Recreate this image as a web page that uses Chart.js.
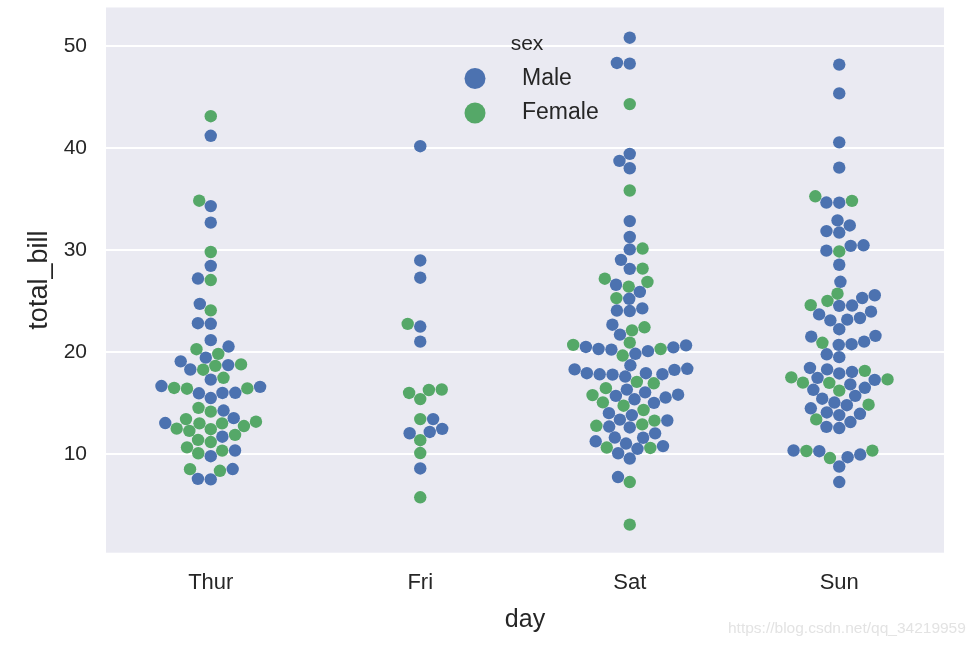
<!DOCTYPE html>
<html>
<head>
<meta charset="utf-8">
<script src="https://cdn.jsdelivr.net/npm/chart.js@4/dist/chart.umd.min.js"></script>
<style>
  html, body { margin: 0; padding: 0; background: #ffffff; }
  #wrap { position: relative; width: 980px; height: 648px; }
  #watermark { position: absolute; left: 728px; top: 619px; font: 15.5px "Liberation Sans", Arial, sans-serif; color: #e3e3e3; white-space: nowrap; }
</style>
</head>
<body>
<div id="wrap">
  <canvas id="c" width="980" height="648"></canvas>
  <div id="watermark">https://blog.csdn.net/qq_34219959</div>
</div>
<script>
// ---- data (seaborn "tips": total_bill by day, with sex of each row, in row order) ----
const days = ['Thur', 'Fri', 'Sat', 'Sun'];
const sexes = ['Male', 'Female'];
const yTicks = [10, 20, 30, 40, 50];

const thurBill = [27.2, 22.76, 17.29, 19.44, 16.66, 10.07, 32.68, 15.98, 34.83, 13.03, 18.28, 24.71, 21.16, 10.65, 12.43, 24.08, 11.69, 13.42, 14.26, 15.95, 12.48, 29.8, 8.52, 14.52, 11.38, 22.82, 19.08, 20.27, 11.17, 12.26, 18.26, 8.51, 10.33, 14.15, 16.0, 13.16, 17.47, 34.3, 41.19, 27.05, 16.43, 8.35, 18.64, 11.87, 9.78, 7.51, 19.81, 28.44, 15.48, 16.58, 7.56, 10.34, 43.11, 13.0, 13.51, 18.71, 12.74, 13.0, 16.4, 20.53, 16.47, 18.78];
const thurSex = 'MMMMMFMMFMMMMFFFMFMMFFMFFMMFFFFFFFMFFMMFFFFFMMFMMMMMFFMMFFFMFF';
const friBill = [28.97, 22.49, 5.75, 16.32, 22.75, 40.17, 27.28, 12.03, 21.01, 12.46, 11.35, 15.38, 12.16, 13.42, 8.58, 15.98, 13.42, 16.27, 10.09];
const friSex = 'MMFFFMMMMMFFMFMFMFF';
const satBill = [20.65, 17.92, 20.29, 15.77, 39.42, 19.82, 17.81, 13.37, 12.69, 21.7, 19.65, 9.55, 18.35, 15.06, 20.69, 17.78, 24.06, 16.31, 16.93, 18.69, 31.27, 16.04, 38.01, 26.41, 11.24, 48.27, 20.29, 13.81, 11.02, 18.29, 17.59, 20.08, 16.45, 3.07, 20.23, 15.01, 12.02, 17.07, 26.86, 25.28, 14.73, 10.51, 17.92, 44.3, 22.42, 20.92, 15.36, 20.49, 25.21, 18.24, 14.31, 14.0, 7.25, 10.59, 10.63, 50.81, 15.81, 26.59, 38.73, 24.27, 12.76, 30.06, 25.89, 48.33, 13.27, 28.17, 12.9, 28.15, 11.59, 7.74, 30.14, 20.45, 13.28, 22.12, 24.01, 15.69, 11.61, 10.77, 15.53, 10.07, 12.6, 32.83, 35.83, 29.03, 27.18, 22.67, 17.82];
const satSex = 'MMFFMMMMMMFMMFFMMMFMMMMFMMMMMMMMFFMMMFFFFMMFFFMMMMFMFFFMMMMMFMMMFFFMMMFMMFMMMMMMMMFMFMM';
const sunBill = [16.99, 10.34, 21.01, 23.68, 24.59, 25.29, 8.77, 26.88, 15.04, 14.78, 10.27, 35.26, 15.42, 18.43, 14.83, 21.58, 10.33, 16.29, 16.97, 17.46, 13.94, 9.68, 30.4, 18.29, 22.23, 32.4, 28.55, 18.04, 12.54, 10.29, 34.81, 9.94, 25.56, 19.49, 38.07, 23.95, 25.71, 17.31, 29.93, 14.07, 13.13, 17.26, 24.55, 19.77, 29.85, 48.17, 25.0, 13.39, 16.49, 21.5, 12.66, 16.21, 13.81, 17.51, 24.52, 20.76, 31.71, 7.25, 31.85, 16.82, 32.9, 17.89, 14.48, 9.6, 34.63, 34.65, 23.33, 45.35, 23.17, 40.55, 20.69, 20.9, 30.46, 18.15, 23.1, 15.69];
const sunSex = 'FMMMFMMMMMMFMMFMFMFMMMMMMMMMMFFMMMMMFFMMMMMMFMFFMMMFMFMMMMMMMMMFMMMMMMMFMFMM';

const billByDay = [thurBill, friBill, satBill, sunBill];
const sexByDay = [thurSex, friSex, satSex, sunSex];

// ---- style ----
const FONT = '"Liberation Sans", Arial, Helvetica, sans-serif';
const TEXT = '#262626';
const COLORS = ['#4C72B0', '#55A868'];
const BG = '#EAEAF2';
const MARKER_D = 12.25; // swarm collision diameter in px

const bgPlugin = {
  id: 'bg',
  beforeDraw(chart) {
    const { ctx, chartArea: a } = chart;
    ctx.save();
    ctx.fillStyle = BG;
    ctx.fillRect(a.left, a.top, a.right - a.left, a.bottom - a.top);
    ctx.restore();
  }
};

const legendPlugin = {
  id: 'swarmLegend',
  afterDraw(chart) {
    const ctx = chart.ctx;
    ctx.save();
    ctx.fillStyle = TEXT;
    ctx.textBaseline = 'middle';
    ctx.textAlign = 'center';
    ctx.font = '21px ' + FONT;
    ctx.fillText('sex', 527, 44);
    ctx.textAlign = 'left';
    ctx.font = '23px ' + FONT;
    chart.data.datasets.forEach((ds, i) => {
      const y = 78.5 + i * 34.5;
      ctx.beginPath();
      ctx.fillStyle = ds.backgroundColor;
      ctx.arc(475, y, 10.5, 0, Math.PI * 2);
      ctx.fill();
      ctx.fillStyle = TEXT;
      ctx.fillText(ds.label, 522, y);
    });
    ctx.restore();
  }
};

// numpy-style (introsort) argsort, so ties resolve like np.argsort(kind='quicksort')
function npArgsort(v) {
  const n = v.length;
  const idx = Array.from({ length: n }, (_, i) => i);
  if (n < 2) return idx;
  const stack = [];
  let pl = 0, pr = n - 1;
  const sw = (a, b) => { const t = idx[a]; idx[a] = idx[b]; idx[b] = t; };
  for (;;) {
    while (pr - pl > 15) {
      const pm = pl + ((pr - pl) >> 1);
      if (v[idx[pm]] < v[idx[pl]]) sw(pm, pl);
      if (v[idx[pr]] < v[idx[pm]]) sw(pr, pm);
      if (v[idx[pm]] < v[idx[pl]]) sw(pm, pl);
      const vp = v[idx[pm]];
      let pi = pl, pj = pr - 1;
      sw(pm, pj);
      for (;;) {
        do { ++pi; } while (v[idx[pi]] < vp);
        do { --pj; } while (vp < v[idx[pj]]);
        if (pi >= pj) break;
        sw(pi, pj);
      }
      sw(pi, pr - 1);
      if (pi - pl < pr - pi) { stack.push(pi + 1, pr); pr = pi - 1; }
      else { stack.push(pl, pi - 1); pl = pi + 1; }
    }
    for (let pi = pl + 1; pi <= pr; ++pi) {
      const vi = idx[pi], vp = v[vi];
      let pj = pi, pk = pi - 1;
      while (pj > pl && vp < v[idx[pk]]) { idx[pj--] = idx[pk--]; }
      idx[pj] = vi;
    }
    if (!stack.length) break;
    pr = stack.pop(); pl = stack.pop();
  }
  return idx;
}

// seaborn-style beeswarm in display space
function beeswarm(ys, d) {
  const swarm = [];
  ys.forEach((y, k) => {
    if (k === 0) { swarm.push([0, y]); return; }
    const nb = [];
    for (let j = swarm.length - 1; j >= 0; j--) {
      if (y - swarm[j][1] < d) nb.unshift(swarm[j]); else break;
    }
    let cands = [[0, y]];
    let leftFirst = true;
    nb.forEach(([xj, yj]) => {
      const dy = y - yj;
      const dx = Math.sqrt(Math.max(d * d - dy * dy, 0)) * 1.05;
      const cl = [xj - dx, y], cr = [xj + dx, y];
      if (leftFirst) cands.push(cl, cr); else cands.push(cr, cl);
      leftFirst = !leftFirst;
    });
    const order = npArgsort(cands.map(c => Math.abs(c[0])));
    cands = order.map(i => cands[i]);
    let chosen = cands[0];
    if (nb.length) {
      for (const c of cands) {
        if (nb.every(([xj, yj]) => (xj - c[0]) ** 2 + (yj - c[1]) ** 2 >= d * d)) { chosen = c; break; }
      }
    }
    swarm.push(chosen);
  });
  return swarm.map(p => p[0]);
}

const datasets = sexes.map((s, si) => ({
  label: s,
  data: billByDay.flatMap((arr, di) => arr.filter((v, k) => sexByDay[di][k] === s[0]).map(v => ({ x: di, y: v }))),
  backgroundColor: COLORS[si],
  borderWidth: 0,
  pointRadius: 6.2,
  pointHoverRadius: 6.2
}));

const chart = new Chart(document.getElementById('c'), {
  type: 'scatter',
  data: { datasets },
  options: {
    responsive: false,
    animation: false,
    events: [],
    layout: { autoPadding: false, padding: { top: 7.5, right: 36, left: 0, bottom: 0 } },
    scales: {
      x: {
        type: 'linear', min: -0.5, max: 3.5,
        afterBuildTicks: ax => { ax.ticks = days.map((d, i) => ({ value: i })); },
        afterFit: ax => { ax.height = 95.3; ax.paddingLeft = 0; ax.paddingRight = 0; },
        grid: { display: false, drawTicks: false },
        border: { display: false },
        ticks: { callback: v => days[v], color: TEXT, font: { family: FONT, size: 22 }, padding: 17, maxRotation: 0 },
        title: { display: true, text: 'day', color: TEXT, font: { family: FONT, size: 25 }, padding: { top: 0, bottom: 13 } }
      },
      y: {
        type: 'linear', min: 0.32, max: 53.77,
        afterBuildTicks: ax => { ax.ticks = yTicks.map(v => ({ value: v })); },
        afterFit: ax => { ax.width = 106; ax.paddingTop = 0; ax.paddingBottom = 0; },
        grid: { color: '#ffffff', lineWidth: 2, drawTicks: false },
        border: { display: false },
        ticks: { color: TEXT, font: { family: FONT, size: 21 }, padding: 19 },
        title: { display: true, text: 'total_bill', color: TEXT, font: { family: FONT, size: 27 }, padding: { top: 23, bottom: 0 } }
      }
    },
    plugins: { legend: { display: false }, tooltip: { enabled: false } }
  },
  plugins: [bgPlugin, legendPlugin]
});

// ---- swarm layout, computed in pixel space from the chart's own scales ----
(function layoutSwarm() {
  const xs = chart.scales.x, ys = chart.scales.y;
  const out = [[], []];
  days.forEach((day, di) => {
    const vals = billByDay[di];
    const order = npArgsort(vals);
    const sorted = order.map(k => ({ v: vals[k], s: sexByDay[di][k] === 'M' ? 0 : 1 }));
    const disp = sorted.map(p => ys.bottom - ys.getPixelForValue(p.v));
    const offs = beeswarm(disp, MARKER_D);
    const cx = xs.getPixelForValue(di);
    sorted.forEach((p, k) => {
      out[p.s].push({ x: xs.getValueForPixel(cx + offs[k]), y: p.v });
    });
  });
  chart.data.datasets[0].data = out[0];
  chart.data.datasets[1].data = out[1];
  chart.update('none');
})();
</script>
</body>
</html>
